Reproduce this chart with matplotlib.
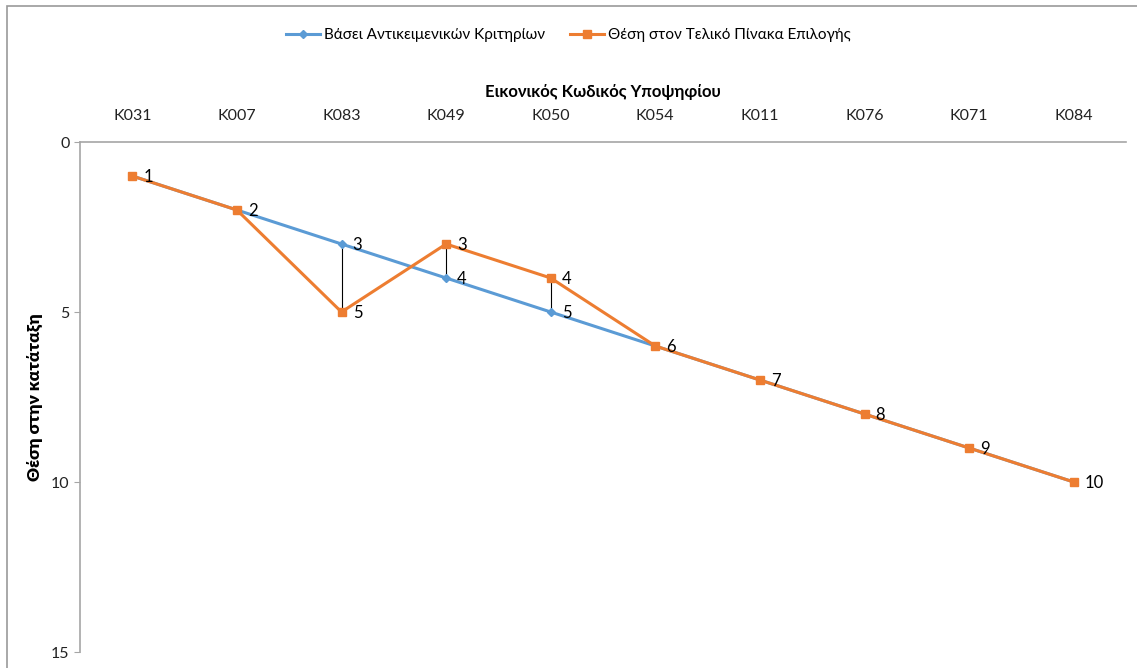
import matplotlib
matplotlib.use("Agg")
import matplotlib.pyplot as plt
import numpy as np

plt.rcParams["font.family"] = ["Lato", "DejaVu Sans"]

codes = ["K031", "K007", "K083", "K049", "K050", "K054", "K011", "K076", "K071", "K084"]
objective = [1, 2, 3, 4, 5, 6, 7, 8, 9, 10]
final = [1, 2, 5, 3, 4, 6, 7, 8, 9, 10]
series_names = ["Βάσει Αντικειμενικών Κριτηρίων", "Θέση στον Τελικό Πίνακα Επιλογής"]

BLUE = "#5B9BD5"
ORANGE = "#ED7D31"
GRAY = "#A6A6A6"

fig = plt.figure(figsize=(11.37, 6.68), dpi=100)
ax = fig.add_axes([80 / 1137, 1 - 652 / 668, 1046 / 1137, 510 / 668])

x = np.arange(len(codes))
# high-low lines between the two series
ax.vlines(x, objective, final, colors="black", lw=0.8, zorder=1)
ax.plot(x, objective, color=BLUE, lw=2.2, marker="D", ms=4, label=series_names[0], zorder=2)
ax.plot(x, final, color=ORANGE, lw=2.2, marker="s", ms=6, label=series_names[1], zorder=3)

for i in range(len(codes)):
    ax.annotate(str(final[i]), (x[i], final[i]), xytext=(8, -1), textcoords="offset points",
                va="center", ha="left", fontsize=12)
    if objective[i] != final[i]:
        ax.annotate(str(objective[i]), (x[i], objective[i]), xytext=(8, -1),
                    textcoords="offset points", va="center", ha="left", fontsize=12)

ax.set_xlim(-0.5, len(codes) - 0.5)
ax.set_ylim(15, 0)
ax.set_yticks([0, 5, 10, 15])
ax.set_xticks(x)
ax.set_xticklabels(codes)
ax.xaxis.tick_top()
ax.xaxis.set_label_position("top")
ax.tick_params(axis="x", length=0, pad=14, labelsize=11.5, colors="#222222")
ax.tick_params(axis="y", length=4, color=GRAY, labelsize=11.5, labelcolor="#222222")
for s in ["right", "bottom"]:
    ax.spines[s].set_visible(False)
for s in ["left", "top"]:
    ax.spines[s].set_color(GRAY)
    ax.spines[s].set_linewidth(1.2)

ax.set_xlabel("Εικονικός Κωδικός Υποψηφίου", fontsize=12, fontweight="bold", labelpad=8)
ax.set_ylabel("Θέση στην κατάταξη", fontsize=12.5, fontweight="heavy", labelpad=6)

fig.legend(loc="center", bbox_to_anchor=(0.5, 1 - 35 / 668), ncol=2, frameon=False,
           fontsize=11, handlelength=2.2, handletextpad=0.3, columnspacing=1.6)

# chart area border
fig.add_artist(plt.Rectangle((7 / 1137, -0.1), 1.2, 1 - 6 / 668 + 0.1, transform=fig.transFigure,
                             fill=False, edgecolor="#999999", lw=1.2))

fig.savefig("out.png", dpi=100)
